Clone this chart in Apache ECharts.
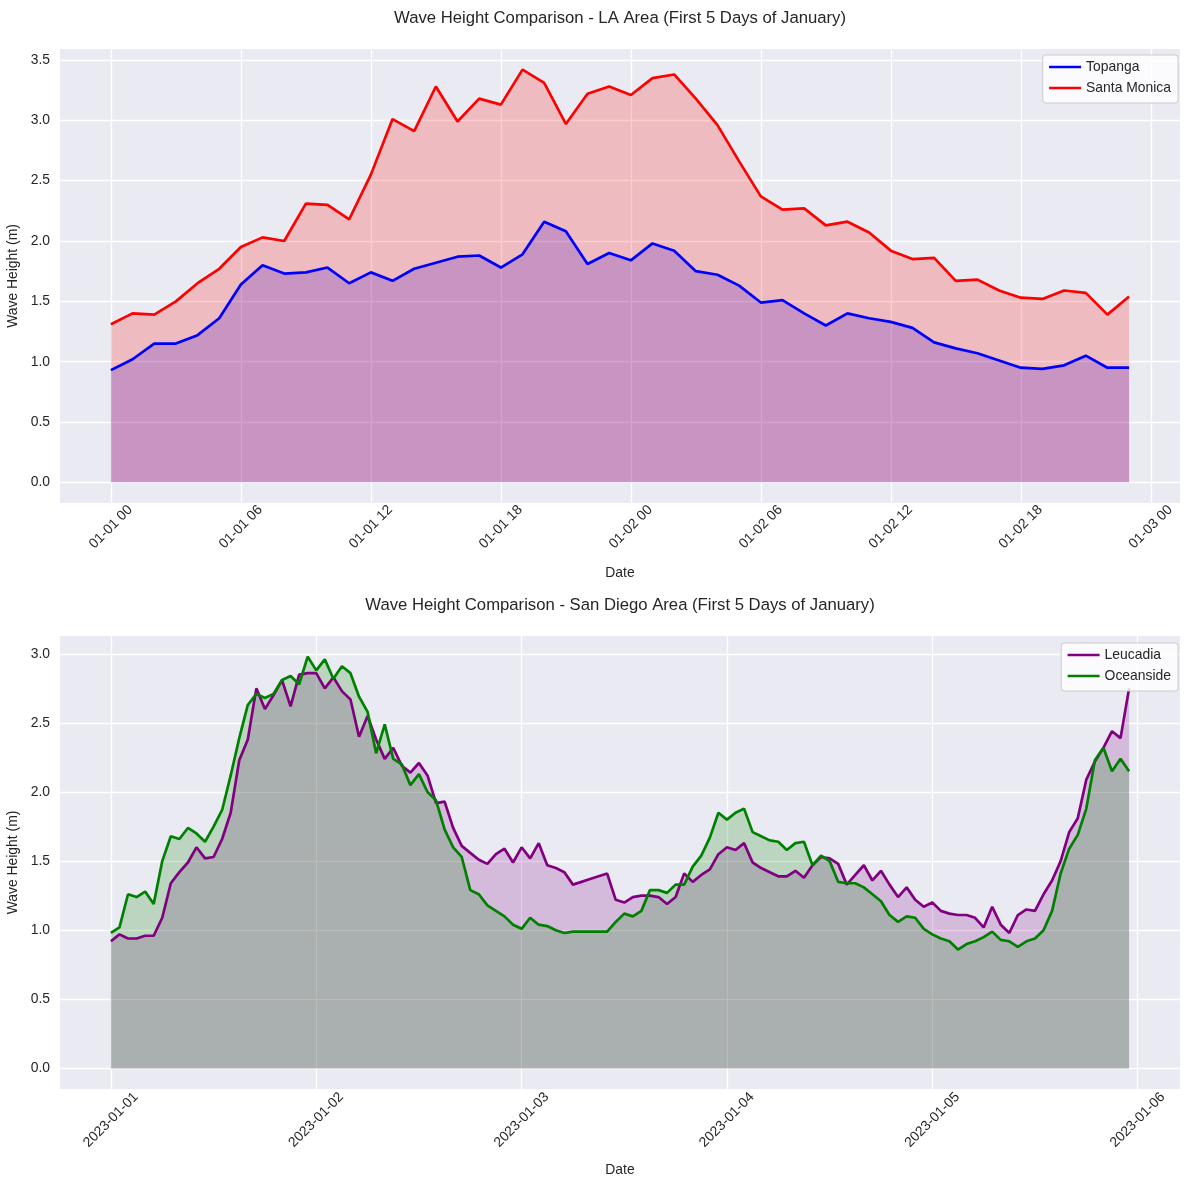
<!DOCTYPE html>
<html><head><meta charset="utf-8">
<script src="https://cdn.jsdelivr.net/npm/echarts@6/dist/echarts.min.js"></script>
<style>html,body{margin:0;padding:0;background:#fff}#c{width:1189px;height:1189px}</style>
</head><body><div id="c"></div>
<script>
// LA area, hourly from 2023-01-01 00:00 (hours 0..47)
const topanga = [0.93,1.02,1.15,1.15,1.22,1.36,1.64,1.80,1.73,1.74,1.78,1.65,1.74,1.67,1.77,1.82,1.87,1.88,1.78,1.89,2.16,2.08,1.81,1.90,1.84,1.98,1.92,1.75,1.72,1.63,1.49,1.51,1.40,1.30,1.40,1.36,1.33,1.28,1.16,1.11,1.07,1.01,0.95,0.94,0.97,1.05,0.95,0.95];
const santaMonica = [1.31,1.40,1.39,1.50,1.65,1.77,1.95,2.03,2.00,2.31,2.30,2.18,2.55,3.01,2.91,3.28,2.99,3.18,3.13,3.42,3.31,2.97,3.22,3.28,3.21,3.35,3.38,3.18,2.96,2.66,2.37,2.26,2.27,2.13,2.16,2.07,1.92,1.85,1.86,1.67,1.68,1.59,1.53,1.52,1.59,1.57,1.39,1.54];
// San Diego area, hourly from 2023-01-01 00:00 (hours 0..119)
const leucadia = [0.92,0.97,0.94,0.94,0.96,0.96,1.09,1.34,1.42,1.49,1.60,1.52,1.53,1.66,1.85,2.23,2.38,2.75,2.60,2.70,2.81,2.62,2.85,2.86,
  2.86,2.75,2.83,2.73,2.67,2.40,2.55,2.38,2.24,2.32,2.19,2.14,2.21,2.12,1.92,1.93,1.74,1.61,1.56,1.51,1.48,1.55,1.59,1.49,
  1.60,1.52,1.63,1.47,1.45,1.42,1.33,1.35,1.37,1.39,1.41,1.22,1.20,1.24,1.25,1.25,1.24,1.19,1.24,1.41,1.35,1.40,1.44,1.55,
  1.60,1.58,1.63,1.49,1.45,1.42,1.39,1.39,1.43,1.38,1.47,1.53,1.52,1.48,1.33,1.40,1.47,1.36,1.43,1.33,1.24,1.31,1.22,1.17,
  1.20,1.14,1.12,1.11,1.11,1.09,1.02,1.17,1.04,0.98,1.11,1.15,1.14,1.26,1.36,1.50,1.71,1.81,2.09,2.22,2.32,2.44,2.39,2.75];
const oceanside = [0.98,1.02,1.26,1.24,1.28,1.19,1.50,1.68,1.66,1.74,1.70,1.64,1.75,1.87,2.12,2.39,2.63,2.71,2.68,2.71,2.81,2.84,2.78,2.98,
  2.88,2.96,2.82,2.91,2.86,2.69,2.58,2.28,2.49,2.24,2.20,2.05,2.13,2.00,1.94,1.73,1.60,1.53,1.29,1.26,1.18,1.14,1.10,1.04,
  1.01,1.09,1.04,1.03,1.00,0.98,0.99,0.99,0.99,0.99,0.99,1.06,1.12,1.10,1.14,1.29,1.29,1.27,1.33,1.33,1.46,1.54,1.67,1.85,
  1.80,1.85,1.88,1.71,1.68,1.65,1.64,1.58,1.63,1.64,1.47,1.54,1.50,1.35,1.34,1.34,1.31,1.26,1.21,1.11,1.06,1.10,1.09,1.01,
  0.97,0.94,0.92,0.86,0.90,0.92,0.95,0.99,0.93,0.92,0.88,0.92,0.94,1.00,1.14,1.41,1.59,1.69,1.88,2.23,2.32,2.15,2.24,2.15];

const laTickHours = [0,6,12,18,24,30,36,42,48];
const laTickLabels = ['01-01 00','01-01 06','01-01 12','01-01 18','01-02 00','01-02 06','01-02 12','01-02 18','01-03 00'];
const sdTickHours = [0,24,48,72,96,120];
const sdTickLabels = ['2023-01-01','2023-01-02','2023-01-03','2023-01-04','2023-01-05','2023-01-06'];
const laYTicks = [0,0.5,1,1.5,2,2.5,3,3.5];
const sdYTicks = [0,0.5,1,1.5,2,2.5,3];

const FONT = '"Liberation Sans", Arial, "DejaVu Sans", sans-serif';
const TXT = '#262626';
const FS = 13.9;

function xAxis(gridIndex, min, max, ticks, labels, margin, gap) {
  return {
    type: 'value', gridIndex, min, max,
    axisLine: {show: false}, axisTick: {show: false, customValues: ticks},
    splitLine: {show: true, lineStyle: {color: '#ffffff', width: 1.3}},
    axisLabel: {customValues: ticks, rotate: 45, align: 'center', verticalAlign: 'middle', margin,
      color: TXT, fontSize: FS, fontFamily: FONT,
      formatter: v => { const k = ticks.indexOf(Math.round(v)); return k >= 0 ? labels[k] : ''; }},
    name: 'Date', nameLocation: 'middle', nameGap: gap,
    nameTextStyle: {color: TXT, fontSize: FS, fontFamily: FONT}
  };
}
function yAxis(gridIndex, min, max, ticks) {
  return {
    type: 'value', gridIndex, min, max,
    axisLine: {show: false}, axisTick: {show: false, customValues: ticks},
    splitLine: {show: true, lineStyle: {color: '#ffffff', width: 1.3}},
    axisLabel: {customValues: ticks, margin: 10, color: TXT, fontSize: FS, fontFamily: FONT,
      formatter: v => v.toFixed(1)},
    name: 'Wave Height (m)', nameLocation: 'middle', nameGap: 38,
    nameTextStyle: {color: TXT, fontSize: FS, fontFamily: FONT}
  };
}
function lineSeries(name, data, color, fill, xi, yi) {
  return {
    name, type: 'line', xAxisIndex: xi, yAxisIndex: yi, symbol: 'none', smooth: false,
    data: data.map((v, i) => [i, v]),
    lineStyle: {color, width: 2.7}, itemStyle: {color},
    areaStyle: {color: fill, opacity: 1, origin: 'auto'},
    emphasis: {disabled: true}, animation: false
  };
}
const legendCommon = {
  orient: 'vertical', itemWidth: 32, itemHeight: 14, itemGap: 7,
  backgroundColor: 'rgba(255,255,255,0.8)', borderColor: '#cccccc', borderWidth: 1, borderRadius: 3,
  padding: [5, 7, 8, 5], itemStyle: {opacity: 0}, lineStyle: {width: 2.7},
  textStyle: {color: TXT, fontSize: FS, fontFamily: FONT}
};

const chart = echarts.init(document.getElementById('c'), null, {renderer: 'canvas'});
chart.setOption({
  animation: false,
  backgroundColor: '#ffffff',
  title: [
    {text: 'Wave Height Comparison - LA Area (First 5 Days of January)', left: 615, top: 5, textAlign: 'center',
      textStyle: {color: TXT, fontSize: 16.7, fontWeight: 'normal', fontFamily: FONT}},
    {text: 'Wave Height Comparison - San Diego Area (First 5 Days of January)', left: 615, top: 592, textAlign: 'center',
      textStyle: {color: TXT, fontSize: 16.7, fontWeight: 'normal', fontFamily: FONT}}
  ],
  grid: [
    {left: 60, width: 1120, top: 49, height: 454, show: true, backgroundColor: '#EAEAF2', borderWidth: 0,
      containLabel: false, outerBoundsMode: 'none'},
    {left: 60, width: 1120, top: 636, height: 453, show: true, backgroundColor: '#EAEAF2', borderWidth: 0,
      containLabel: false, outerBoundsMode: 'none'}
  ],
  xAxis: [
    xAxis(0, -2.35, 49.35, laTickHours, laTickLabels, 24, 63),
    xAxis(1, -5.95, 124.95, sdTickHours, sdTickLabels, 31, 74)
  ],
  yAxis: [
    yAxis(0, -0.171, 3.591, laYTicks),
    yAxis(1, -0.149, 3.129, sdYTicks)
  ],
  legend: [
    Object.assign({data: ['Topanga', 'Santa Monica'], right: 11, top: 55}, legendCommon),
    Object.assign({data: ['Leucadia', 'Oceanside'], right: 11, top: 643}, legendCommon)
  ],
  series: [
    lineSeries('Topanga', topanga, '#0000ff', 'rgba(0,0,255,0.2)', 0, 0),
    lineSeries('Santa Monica', santaMonica, '#ff0000', 'rgba(255,0,0,0.2)', 0, 0),
    lineSeries('Leucadia', leucadia, '#800080', 'rgba(128,0,128,0.2)', 1, 1),
    lineSeries('Oceanside', oceanside, '#008000', 'rgba(0,128,0,0.2)', 1, 1)
  ]
});
</script></body></html>
